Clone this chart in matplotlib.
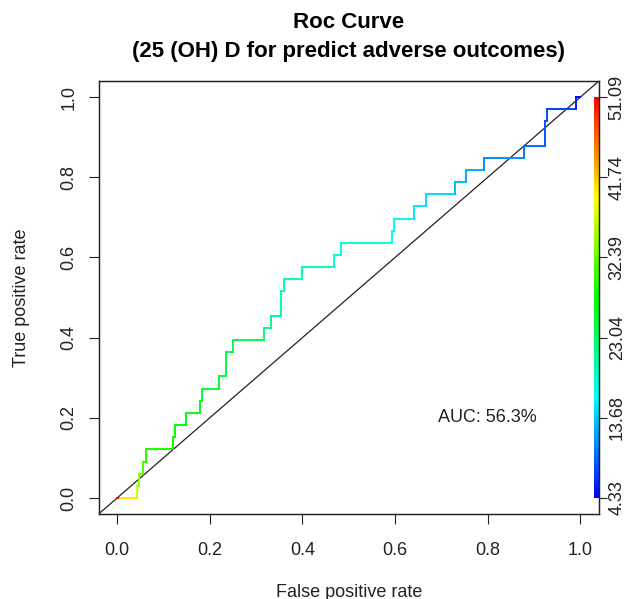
import numpy as np
import matplotlib
matplotlib.use("Agg")
import matplotlib.pyplot as plt
from matplotlib.collections import LineCollection
from matplotlib.colors import ListedColormap, Normalize, hsv_to_rgb

plt.rcParams['font.family'] = ['Liberation Sans', 'DejaVu Sans']

# ---------------- data ----------------
n_pos = 33
fpr = [0.000, 0.006, 0.042, 0.042, 0.047, 0.047, 0.056, 0.056, 0.062, 0.062,
       0.1196, 0.1196, 0.1239, 0.1239, 0.1497, 0.1497, 0.1799, 0.1799, 0.1835, 0.1835,
       0.2208, 0.2208, 0.236, 0.236, 0.250, 0.250, 0.318, 0.318, 0.333, 0.333,
       0.3537, 0.3537, 0.3594, 0.3594, 0.400, 0.400, 0.4686, 0.4686, 0.483, 0.483,
       0.594, 0.594, 0.598, 0.598, 0.641, 0.641, 0.667, 0.667, 0.7285, 0.7285,
       0.754, 0.754, 0.7917, 0.7917, 0.878, 0.878, 0.923, 0.923, 0.9267, 0.9267,
       0.990, 0.990, 1.000]
tp_count = [0, 0, 0, 1, 1, 2, 2, 3, 3, 4,
            4, 5, 5, 6, 6, 7, 7, 8, 8, 9,
            9, 10, 10, 12, 12, 13, 13, 14, 14, 15,
            15, 17, 17, 18, 18, 19, 19, 20, 20, 21,
            21, 22, 22, 23, 23, 24, 24, 25, 25, 26,
            26, 27, 27, 28, 28, 29, 29, 31, 31, 32,
            32, 33, 33]
cutoff = [51.09, 51.09, 40.0, 37.0, 36.0, 34.0, 33.0, 31.0, 30.0, 29.0,
          28.5, 28.0, 28.0, 27.5, 27.5, 27.0, 27.0, 26.5, 26.5, 26.0,
          26.0, 25.5, 25.5, 25.0, 25.0, 24.0, 24.0, 22.5, 22.0, 21.0,
          21.0, 20.0, 20.0, 19.5, 19.5, 19.0, 19.0, 18.0, 18.0, 17.5,
          17.5, 16.5, 16.5, 16.0, 16.0, 15.0, 15.0, 14.5, 14.5, 13.0,
          13.0, 12.5, 12.5, 11.0, 11.0, 10.0, 9.5, 8.5, 8.5, 8.0,
          7.5, 6.0, 4.33]
cbar_ticks = [4.33, 13.68, 23.04, 32.39, 41.74, 51.09]
auc_text = "AUC: 56.3%"
xticks = [0.0, 0.2, 0.4, 0.6, 0.8, 1.0]
yticks = [0.0, 0.2, 0.4, 0.6, 0.8, 1.0]

# ---------------- figure ----------------
W, H = 643, 599
fig = plt.figure(figsize=(W / 100, H / 100), dpi=100)
L, R, T, B = 98.6, 599.0, 81.0, 514.0
ax = fig.add_axes([L / W, 1 - B / H, (R - L) / W, (B - T) / H])
ax.set_xlim(-0.04, 1.04)
ax.set_ylim(-0.04, 1.04)

# rainbow palette (blue -> red), as in ROCR colorize
hues = np.linspace(2 / 3, 0, 256)
pal = hsv_to_rgb(np.stack([hues, np.ones(256), np.ones(256)], axis=1))
cmap = ListedColormap(pal)
norm = Normalize(vmin=min(cbar_ticks), vmax=max(cbar_ticks))

tpr = np.array(tp_count) / n_pos
pts = np.column_stack([fpr, tpr])
segs = np.stack([pts[:-1], pts[1:]], axis=1)
lc = LineCollection(segs, cmap=cmap, norm=norm, linewidths=1.4, capstyle='projecting')
lc.set_array(np.array(cutoff[1:]))
ax.add_collection(lc)

# diagonal reference
ax.axline((0, 0), slope=1, color='#222222', lw=0.9, zorder=1)

# colour key inside the plot at the right edge
grad = np.linspace(min(cbar_ticks), max(cbar_ticks), 256).reshape(-1, 1)
ax.imshow(grad, extent=(1.029, 1.04, 0, 1), origin='lower', cmap=cmap, norm=norm,
          aspect='auto', zorder=2)
ax.set_xlim(-0.04, 1.04)
ax.set_ylim(-0.04, 1.04)

ax.text(0.8, 0.2, auc_text, ha='center', va='center', fontsize=13, color='#222222')

ax.set_xticks(xticks)
ax.set_xticklabels([f"{v:.1f}" for v in xticks])
ax.set_yticks(yticks)
ax.set_yticklabels([f"{v:.1f}" for v in yticks], rotation=90, va='center')
ax.tick_params(direction='out', length=7.2, width=0.8, labelsize=13, colors='#222222')
ax.tick_params(axis='x', pad=13)
ax.tick_params(axis='y', pad=8)
for s in ax.spines.values():
    s.set_linewidth(0.9)
    s.set_color('#222222')

# right axis for cutoff values
ax2 = ax.twinx()
span = max(cbar_ticks) - min(cbar_ticks)
ax2.set_ylim(min(cbar_ticks) + (-0.04) * span, min(cbar_ticks) + 1.04 * span)
ax2.set_yticks(cbar_ticks)
ax2.set_yticklabels([f"{v:.2f}" for v in cbar_ticks], rotation=90, va='center')
ax2.tick_params(direction='out', length=6, width=0.8, labelsize=13, pad=1, colors='#222222')
for s in ax2.spines.values():
    s.set_linewidth(0.9)
    s.set_color('#222222')

# titles and axis labels
cx = (L + R) / 2 / W
fig.text(cx, 1 - 23 / H, "Roc Curve", ha='center', va='center', fontsize=16, fontweight='bold')
fig.text(cx, 1 - 51 / H, "(25 (OH) D for predict adverse outcomes)", ha='center', va='center',
         fontsize=16, fontweight='bold')
fig.text(cx, 1 - 597 / H, "False positive rate", ha='center', va='baseline', fontsize=13, color='#222222')
fig.text(22 / W, 1 - (T + B) / 2 / H, "True positive rate", ha='center', va='center', rotation=90,
         fontsize=13, color='#222222')

fig.savefig("out.png", dpi=100)
